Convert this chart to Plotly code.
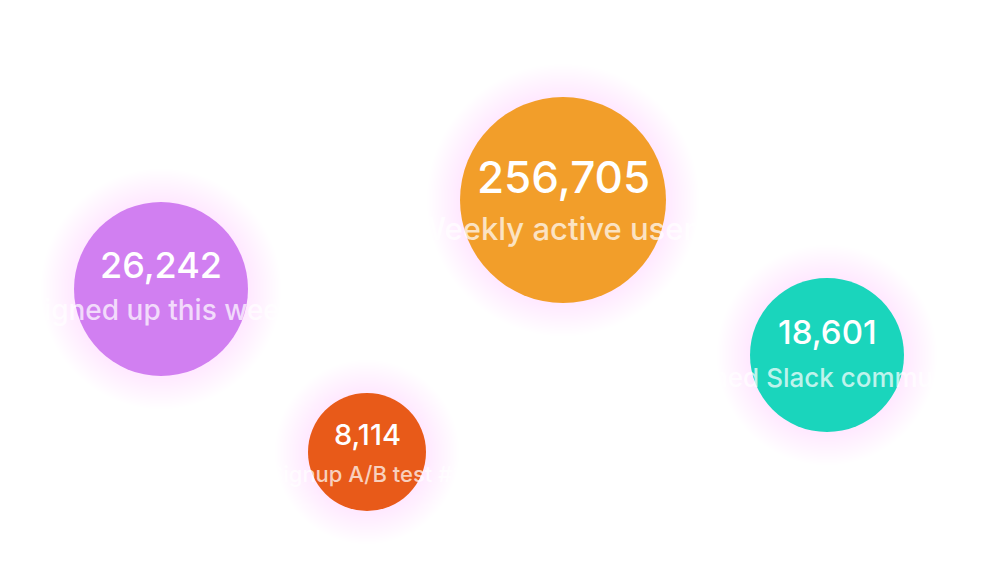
import plotly.graph_objects as go

# Data
metrics = ["Weekly active users", "Signed up this week", "Joined Slack community", "Signup A/B test #3"]
values = [256705, 26242, 18601, 8114]
colors = ["#F29E2A", "#D17FF1", "#1AD5BC", "#E85A19"]

# Layout (pixel-based coordinates of bubble centres and diameters)
x_pos = [563, 161, 827, 367]
y_pos = [200, 289, 355, 452]
diam = [206, 174, 154, 118]
num_size = [44, 36, 33, 29]
lab_size = [31, 28, 26, 22]
num_shift = [23, 24, 23, 18]
lab_shift = [28, 21, 22, 22]

W, H = 985, 567
fig = go.Figure()

# glow layers
n_layers = 22
for k in range(n_layers, 0, -1):
    fig.add_trace(go.Scatter(
        x=x_pos, y=y_pos, mode="markers", hoverinfo="skip", showlegend=False,
        marker=dict(size=[d + 3.0 * k for d in diam], color="rgba(210,130,255,0.011)",
                    line=dict(width=0)),
    ))

fig.add_trace(go.Scatter(
    x=x_pos, y=y_pos, mode="markers", showlegend=False,
    marker=dict(size=diam, color=colors, opacity=1, line=dict(width=0)),
    text=metrics, customdata=values,
    hovertemplate="%{text}: %{customdata:,}<extra></extra>",
))

for i, (m, v) in enumerate(zip(metrics, values)):
    fig.add_annotation(x=x_pos[i], y=y_pos[i], text=f"{v:,}", showarrow=False,
                       yshift=num_shift[i], xanchor="center", yanchor="middle",
                       font=dict(family="Inter", size=num_size[i], color="white", weight=500))
    fig.add_annotation(x=x_pos[i], y=y_pos[i], text=m, showarrow=False,
                       yshift=-lab_shift[i], xanchor="center", yanchor="middle",
                       font=dict(family="Inter", size=lab_size[i], color="rgba(255,255,255,0.72)", weight=500))

fig.update_layout(
    width=W, height=H, margin=dict(l=0, r=0, t=0, b=0),
    paper_bgcolor="white", plot_bgcolor="white",
    xaxis=dict(range=[0, W], visible=False, fixedrange=True),
    yaxis=dict(range=[H, 0], visible=False, fixedrange=True),
)
fig.write_html("out.html")
